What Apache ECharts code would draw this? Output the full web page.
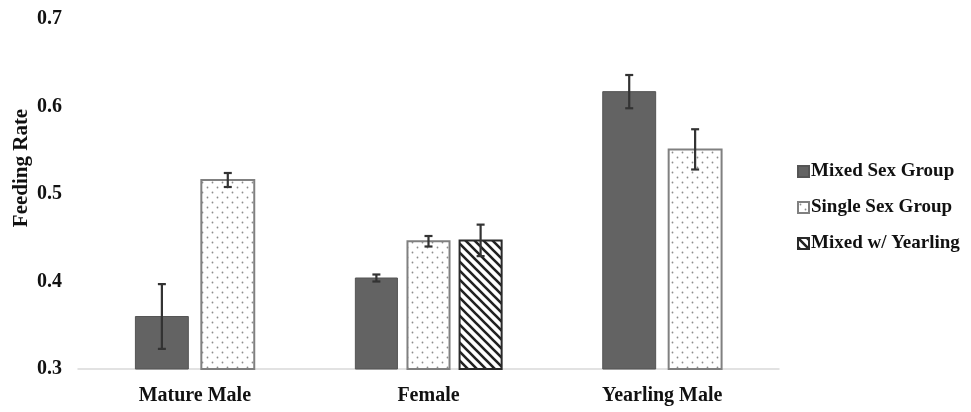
<!DOCTYPE html>
<html>
<head>
<meta charset="utf-8">
<script src="https://cdn.jsdelivr.net/npm/echarts@6/dist/echarts.min.js"></script>
<style>
  html, body { margin: 0; padding: 0; background: #fff; }
  #chart { width: 971px; height: 412px; }
</style>
</head>
<body>
<div id="chart"></div>
<script>
const categories = ['Mature Male', 'Female', 'Yearling Male']
const seriesNames = ['Mixed Sex Group', 'Single Sex Group', 'Mixed w/ Yearling']

const mixedSex = [0.360, 0.404, 0.617]
const mixedSexErr = [0.037, 0.004, 0.019]
const singleSex = [0.516, 0.446, 0.551]
const singleSexErr = [0.008, 0.006, 0.023]
const mixedYearling = [null, 0.447, null]
const mixedYearlingErr = [null, 0.018, null]

const yTicks = [0.3, 0.4, 0.5, 0.6, 0.7]

const allValues = [mixedSex, singleSex, mixedYearling]
const allErrs = [mixedSexErr, singleSexErr, mixedYearlingErr]

const FONT = 'Liberation Serif'

function dotPattern() {
    const c = document.createElement('canvas')
    c.width = 10
    c.height = 10
    const ctx = c.getContext('2d')
    ctx.fillStyle = '#fff'
    ctx.fillRect(0, 0, 10, 10)
    ctx.fillStyle = '#8c8c8c'
    ctx.beginPath(); ctx.arc(2.5, 2.5, 0.9, 0, Math.PI * 2); ctx.fill()
    ctx.beginPath(); ctx.arc(7.5, 7.5, 0.9, 0, Math.PI * 2); ctx.fill()
    return { image: c, repeat: 'repeat' }
}

function hatchPattern() {
    const s = 9
    const c = document.createElement('canvas')
    c.width = s
    c.height = s
    const ctx = c.getContext('2d')
    ctx.fillStyle = '#fff'
    ctx.fillRect(0, 0, s, s)
    ctx.strokeStyle = '#222'
    ctx.lineWidth = 2.6
    ctx.beginPath()
    ctx.moveTo(-2, -2); ctx.lineTo(s + 2, s + 2)
    ctx.moveTo(-2, s - 2); ctx.lineTo(2, s + 2)
    ctx.moveTo(s - 2, -2); ctx.lineTo(s + 2, 2)
    ctx.stroke()
    return { image: c, repeat: 'repeat' }
}

const fills = ['#636363', dotPattern(), hatchPattern()]
const strokes = ['#555555', '#808080', '#2a2a2a']
const strokeWidths = [1, 2, 2]

function renderBar(params, api) {
    const cat = api.value(0)
    const val = api.value(1)
    const err = api.value(2)
    const present = []
    allValues.forEach((arr, k) => { if (arr[cat] != null) present.push(k) })
    const n = present.length
    const slot = present.indexOf(params.seriesIndex)
    const band = api.size([1, 0])[0]
    const w = band * (n === 3 ? 0.18 : 0.2265)
    const g = band * (n === 3 ? 0.043 : 0.0556)
    const top = api.coord([cat, val])
    const base = api.coord([cat, yTicks[0]])[1]
    const total = n * w + (n - 1) * g
    const x0 = top[0] - total / 2 + slot * (w + g)
    const cx = x0 + w / 2
    const yHi = api.coord([cat, val + err])[1]
    const yLo = api.coord([cat, val - err])[1]
    const si = params.seriesIndex
    const errStyle = { stroke: '#333333', lineWidth: 2.2 }
    return {
        type: 'group',
        children: [
            {
                type: 'rect',
                shape: { x: x0, y: top[1], width: w, height: base - top[1] },
                style: { fill: fills[si], stroke: strokes[si], lineWidth: strokeWidths[si] }
            },
            { type: 'line', shape: { x1: cx, y1: yHi, x2: cx, y2: yLo }, style: errStyle },
            { type: 'line', shape: { x1: cx - 4, y1: yHi, x2: cx + 4, y2: yHi }, style: errStyle },
            { type: 'line', shape: { x1: cx - 4, y1: yLo, x2: cx + 4, y2: yLo }, style: errStyle }
        ]
    }
}

const series = seriesNames.map((name, k) => ({
    name: name,
    type: 'custom',
    renderItem: renderBar,
    encode: { x: 0, y: 1 },
    itemStyle: { color: fills[k], borderColor: strokes[k], borderWidth: 1 },
    data: categories
        .map((c, i) => allValues[k][i] == null ? null : [i, allValues[k][i], allErrs[k][i]])
        .filter(d => d !== null)
}))

const chart = echarts.init(document.getElementById('chart'))

const option = {
    animation: false,
    grid: { left: 78, right: 192, top: 19, bottom: 43, containLabel: false },
    xAxis: {
        type: 'category',
        data: categories,
        axisLine: { lineStyle: { color: '#d9d9d9', width: 1.5 } },
        axisTick: { show: false },
        axisLabel: { color: '#111', fontFamily: FONT, fontWeight: 'bold', fontSize: 20, margin: 17 }
    },
    yAxis: {
        type: 'value',
        min: yTicks[0],
        max: yTicks[yTicks.length - 1],
        interval: 0.1,
        axisLine: { show: false },
        axisTick: { show: false },
        splitLine: { show: false },
        axisLabel: {
            color: '#111', fontFamily: FONT, fontWeight: 'bold', fontSize: 20, margin: 16,
            formatter: v => v.toFixed(1)
        }
    },
    legend: {
        orient: 'vertical',
        left: 797,
        top: 162,
        padding: 0,
        icon: 'rect',
        itemWidth: 11,
        itemHeight: 11,
        itemGap: 17,
        textStyle: { color: '#111', fontFamily: FONT, fontWeight: 'bold', fontSize: 19, padding: [0, 0, 0, -3] },
        data: seriesNames
    },
    graphic: [{
        type: 'text',
        x: 22,
        y: 168,
        rotation: Math.PI / 2,
        style: {
            text: 'Feeding Rate',
            font: 'bold 21px "Liberation Serif"',
            fill: '#111',
            align: 'center',
            verticalAlign: 'middle'
        }
    }],
    series: series
}

chart.setOption(option)
</script>
</body>
</html>
